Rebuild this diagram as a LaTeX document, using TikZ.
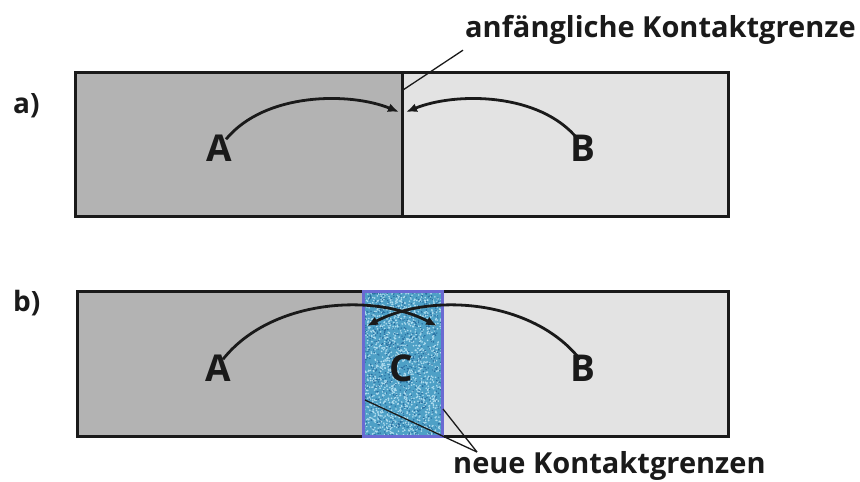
\documentclass[tikz,border=0pt]{standalone}
\usepackage{fontspec}
\setmainfont{Open Sans}
\usetikzlibrary{arrows.meta,calc}
\definecolor{dk}{HTML}{1A1A1A}
\definecolor{lgray}{HTML}{B3B3B3}
\definecolor{rgray}{HTML}{E3E3E3}
\definecolor{cfill}{RGB}{78,160,198}
\definecolor{cdot}{RGB}{175,220,238}
\definecolor{cdark}{RGB}{40,110,160}
\definecolor{cedge}{HTML}{6A6AD2}
\begin{document}
\begin{tikzpicture}[x=1pt,y=-1pt,
  lbl/.style={font=\bfseries\fontsize{29}{29}\selectfont, text=dk, inner sep=0pt},
  big/.style={font=\bfseries\fontsize{37}{37}\selectfont, text=dk, inner sep=0pt},
  tag/.style={font=\bfseries\fontsize{28}{28}\selectfont, text=dk, inner sep=0pt},
  arcline/.style={line width=2.8pt, draw=dk, -{Latex[length=11pt,width=9pt]}},
  lead/.style={line width=1.3pt, draw=dk},
  frame/.style={line width=3pt, draw=dk}]
\useasboundingbox (0,0) rectangle (860,482);

% ---------- a) ----------
\fill[lgray] (75,72) rectangle (402,216);
\fill[rgray] (402,72) rectangle (728,216);
\draw[frame] (75,72) rectangle (728,216);
\draw[line width=3pt, draw=dk] (402,72) -- (402,216);

\node[tag, anchor=base west] (ta) at (13,113) {a)};
\node[big, anchor=base] (Aa) at (219,161) {A};
\node[big, anchor=base] (Ba) at (583,161) {B};
\coordinate (tipAa) at (399,112);
\coordinate (tipBa) at (406,112);
\draw[arcline] ([xshift=7pt,yshift=-5pt]Aa.north) .. controls (265,92) and (350,92) .. (tipAa);
\draw[arcline] ([xshift=-5pt,yshift=-5pt]Ba.north) .. controls (540,92) and (455,92) .. (tipBa);

\node[lbl, anchor=base west] (lblA) at (465,37) {anfängliche Kontaktgrenze};
\coordinate (divA) at (403,90);
\draw[lead] ([xshift=-2pt,yshift=-6pt]lblA.south west) -- (divA);

% ---------- b) ----------
\fill[lgray] (77,291) rectangle (363,436);
\fill[rgray] (442,291) rectangle (728,436);
\draw[frame] (77,291) rectangle (728,436);
\begin{scope}
  \clip (363,291) rectangle (442,436);
  \fill[cfill] (363,291) rectangle (442,436);
  \pgfmathsetseed{7}
  \foreach \i in {1,...,1400} {
    \pgfmathsetmacro{\xx}{363+79*rnd}
    \pgfmathsetmacro{\yy}{291+145*rnd}
    \fill[cdot] (\xx,\yy) circle (0.9);
  }
  \foreach \i in {1,...,700} {
    \pgfmathsetmacro{\xx}{363+79*rnd}
    \pgfmathsetmacro{\yy}{291+145*rnd}
    \fill[cdark] (\xx,\yy) circle (0.8);
  }
\end{scope}
\draw[line width=3pt, draw=cedge] (363,291) rectangle (442,436);

\node[tag, anchor=base west] (tb) at (13,311) {b)};
\node[big, anchor=base] (Ab) at (218,381) {A};
\node[big, anchor=base] (Bb) at (583,381) {B};
\node[big, anchor=base] (Cb) at (401,381) {C};
\coordinate (tipAb) at (437,326);
\coordinate (tipBb) at (367,326);
\draw[arcline] ([xshift=5pt,yshift=-5pt]Ab.north) .. controls (270,300) and (372,292) .. (tipAb);
\draw[arcline] ([xshift=-3pt,yshift=-5pt]Bb.north) .. controls (533,300) and (432,292) .. (tipBb);

\node[lbl, anchor=base west] (lblB) at (453,473) {neue Kontaktgrenzen};
\coordinate (tipL) at (477,452);
\coordinate (edgeL) at (365,400);
\coordinate (edgeR) at (443,409);
\draw[lead] (tipL) -- (edgeL);
\draw[lead] (tipL) -- (edgeR);
\end{tikzpicture}
\end{document}
